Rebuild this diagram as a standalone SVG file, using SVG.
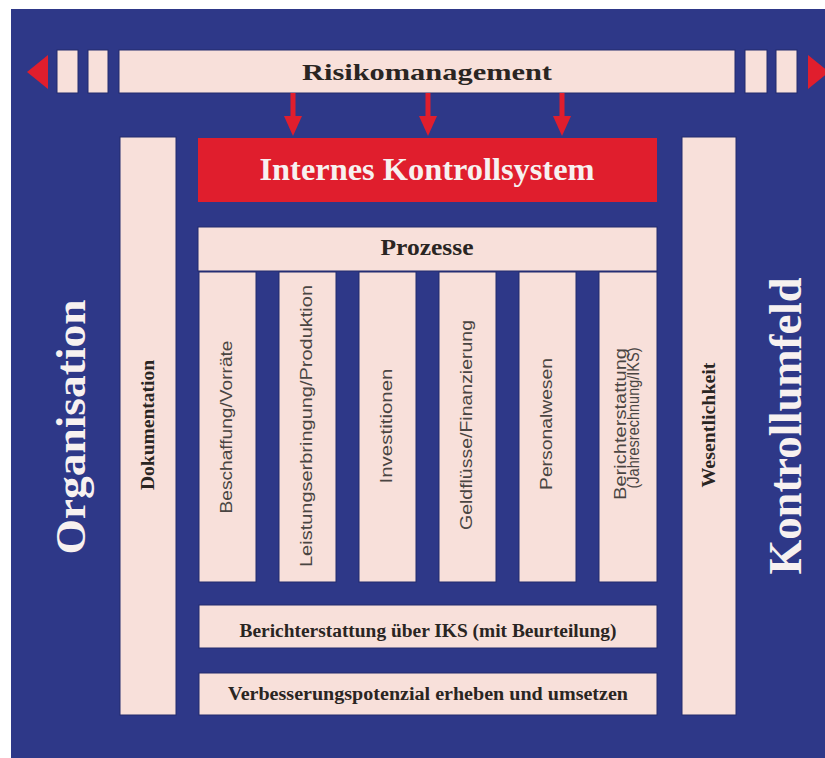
<svg xmlns="http://www.w3.org/2000/svg" width="825" height="758" viewBox="0 0 825 758">
<style>
.pink{fill:#f8e0da;stroke:#222b6c;stroke-width:1}
.red{fill:#e01e2d}
.serifb{font-family:"Liberation Serif","Times New Roman",serif;font-weight:bold}
.dark{fill:#2a2522}
.col{font-family:"Liberation Sans",Arial,sans-serif;font-size:17px;fill:#4a4542}
.white{fill:#f7f1f0}
</style>
<defs>
<marker id="ah" viewBox="0 0 20 18" refX="0" refY="9" markerWidth="20" markerHeight="18" markerUnits="userSpaceOnUse" orient="auto">
<path d="M0,0 L20,9 L0,18 z" fill="#e01e2d"/>
</marker>
</defs>
<rect x="0" y="0" width="825" height="758" fill="#ffffff"/>
<rect x="11" y="9" width="814" height="749" fill="#2e3888"/>

<g id="risikomanagement">
<polygon class="red" points="27,72 48,55 48,89"/>
<rect class="pink" x="57" y="50" width="21" height="43"/>
<rect class="pink" x="88" y="50" width="20" height="43"/>
<rect class="pink" x="119" y="50" width="616" height="43"/>
<rect class="pink" x="745" y="50" width="22" height="43"/>
<rect class="pink" x="776" y="50" width="21" height="43"/>
<polygon class="red" points="829,72 808,55 808,89"/>
<text class="serifb dark" x="427" y="80" font-size="24" text-anchor="middle" textLength="250" lengthAdjust="spacingAndGlyphs">Risikomanagement</text>
</g>

<g id="connectors">
<line x1="293" y1="93" x2="293" y2="116" stroke="#e01e2d" stroke-width="5" marker-end="url(#ah)"/>
<line x1="428" y1="93" x2="428" y2="116" stroke="#e01e2d" stroke-width="5" marker-end="url(#ah)"/>
<line x1="562" y1="93" x2="562" y2="116" stroke="#e01e2d" stroke-width="5" marker-end="url(#ah)"/>
</g>

<g id="iks">
<rect class="red" x="198" y="138" width="459" height="64"/>
<text class="serifb white" x="427" y="180" font-size="32" text-anchor="middle" textLength="335" lengthAdjust="spacingAndGlyphs">Internes Kontrollsystem</text>
</g>

<g id="prozesse">
<rect class="pink" x="198" y="227" width="459" height="44"/>
<text class="serifb dark" x="427" y="255" font-size="24" text-anchor="middle" textLength="93" lengthAdjust="spacingAndGlyphs">Prozesse</text>
</g>

<g id="beschaffung">
<rect class="pink" x="199" y="272" width="57" height="310"/>
<text class="col" transform="translate(232,427) rotate(-90)" text-anchor="middle" textLength="173" lengthAdjust="spacingAndGlyphs">Beschaffung/Vorräte</text>
</g>
<g id="leistung">
<rect class="pink" x="279" y="272" width="57" height="310"/>
<text class="col" transform="translate(312,426) rotate(-90)" text-anchor="middle" textLength="282" lengthAdjust="spacingAndGlyphs">Leistungserbringung/Produktion</text>
</g>
<g id="investitionen">
<rect class="pink" x="359" y="272" width="57" height="310"/>
<text class="col" transform="translate(392,426) rotate(-90)" text-anchor="middle" textLength="115" lengthAdjust="spacingAndGlyphs">Investitionen</text>
</g>
<g id="geldfluesse">
<rect class="pink" x="439" y="272" width="57" height="310"/>
<text class="col" transform="translate(472,425) rotate(-90)" text-anchor="middle" textLength="210" lengthAdjust="spacingAndGlyphs">Geldflüsse/Finanzierung</text>
</g>
<g id="personalwesen">
<rect class="pink" x="519" y="272" width="57" height="310"/>
<text class="col" transform="translate(552,424) rotate(-90)" text-anchor="middle" textLength="132" lengthAdjust="spacingAndGlyphs">Personalwesen</text>
</g>
<g id="berichterstattung">
<rect class="pink" x="599" y="272" width="58" height="310"/>
<text class="col" transform="translate(626,424) rotate(-90)" text-anchor="middle" textLength="152" lengthAdjust="spacingAndGlyphs">Berichterstattung</text>
<text class="col" transform="translate(639,418) rotate(-90)" text-anchor="middle" font-size="9" textLength="141" lengthAdjust="spacingAndGlyphs">(Jahresrechnung/IKS)</text>
</g>

<g id="bericht-iks">
<rect class="pink" x="199" y="605" width="458" height="43"/>
<text class="serifb dark" x="428" y="637" font-size="18" text-anchor="middle" textLength="377" lengthAdjust="spacingAndGlyphs">Berichterstattung über IKS (mit Beurteilung)</text>
</g>
<g id="verbesserung">
<rect class="pink" x="199" y="673" width="458" height="42"/>
<text class="serifb dark" x="428" y="700" font-size="18" text-anchor="middle" textLength="400" lengthAdjust="spacingAndGlyphs">Verbesserungspotenzial erheben und umsetzen</text>
</g>

<g id="dokumentation">
<rect class="pink" x="120" y="137" width="56" height="578"/>
<text class="serifb dark" transform="translate(154,425) rotate(-90)" font-size="19" text-anchor="middle" textLength="130" lengthAdjust="spacingAndGlyphs">Dokumentation</text>
</g>
<g id="wesentlichkeit">
<rect class="pink" x="682" y="137" width="54" height="578"/>
<text class="serifb dark" transform="translate(715,425) rotate(-90)" font-size="19" text-anchor="middle" textLength="125" lengthAdjust="spacingAndGlyphs">Wesentlichkeit</text>
</g>

<g id="organisation">
<text class="serifb white" transform="translate(85,427) rotate(-90)" font-size="42" text-anchor="middle" textLength="255" lengthAdjust="spacingAndGlyphs">Organisation</text>
</g>
<g id="kontrollumfeld">
<text class="serifb white" transform="translate(801,426) rotate(-90)" font-size="46" text-anchor="middle" textLength="297" lengthAdjust="spacingAndGlyphs">Kontrollumfeld</text>
</g>
</svg>
